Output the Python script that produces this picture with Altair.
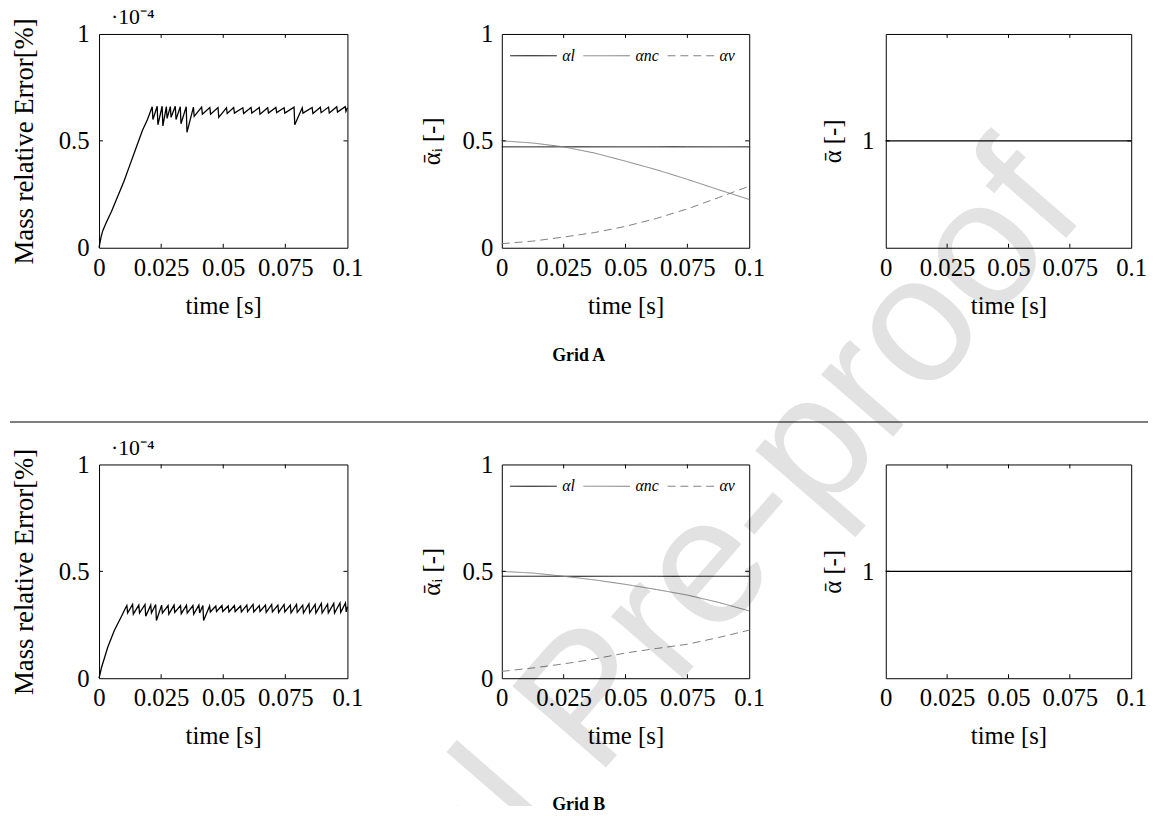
import altair as alt
import pandas as pd

FONT = "Liberation Serif"

# ---------------- data ----------------
time_ticks = [0, 0.025, 0.05, 0.075, 0.1]
inner_time_ticks = [0.025, 0.05, 0.075]
err_ticks = [0, 0.5, 1]
frac_ticks = [0, 0.5, 1]
total_ticks = [1]
err_scale_label = ["·10⁻⁴"]

# Grid A, mass relative error (x 1e-4 %)
A_err_t = [0, 0.0008, 0.0015, 0.003, 0.005, 0.0075, 0.01, 0.0125, 0.015, 0.0175, 0.0195,
           0.0214, 0.0217, 0.0234, 0.0237, 0.0254, 0.0257, 0.0271, 0.0274, 0.0287, 0.0290,
           0.0307, 0.0310, 0.0327, 0.0330, 0.0351, 0.0354, 0.0380, 0.0383, 0.0413, 0.0416,
           0.0446, 0.0449, 0.0479, 0.0482, 0.0513, 0.0516, 0.0542, 0.0545, 0.0579, 0.0582,
           0.0612, 0.0615, 0.0645, 0.0648, 0.0679, 0.0682, 0.0712, 0.0715, 0.0745, 0.0748,
           0.0785, 0.0788, 0.0818, 0.0821, 0.0858, 0.0861, 0.0891, 0.0894, 0.0924, 0.0927,
           0.0957, 0.0960, 0.0991, 0.0994, 0.1]
A_err_v = [0, 0.05, 0.08, 0.12, 0.17, 0.24, 0.31, 0.39, 0.47, 0.55, 0.60,
           0.660, 0.600, 0.662, 0.575, 0.662, 0.570, 0.660, 0.605, 0.660, 0.610,
           0.662, 0.600, 0.660, 0.580, 0.660, 0.540, 0.658, 0.615, 0.658, 0.625,
           0.656, 0.625, 0.656, 0.610, 0.655, 0.628, 0.656, 0.630, 0.655, 0.628,
           0.656, 0.630, 0.656, 0.625, 0.655, 0.630, 0.656, 0.632, 0.655, 0.630,
           0.658, 0.575, 0.655, 0.630, 0.656, 0.628, 0.657, 0.632, 0.658, 0.630,
           0.660, 0.635, 0.660, 0.638, 0.655]

# Grid B, mass relative error (x 1e-4 %)
B_err_t = [0, 0.001, 0.0035, 0.0061, 0.0088, 0.0105,
           0.0112, 0.0115, 0.0135, 0.0138, 0.0160, 0.0163, 0.0185, 0.0188, 0.0208, 0.0211,
           0.0228, 0.0231, 0.0252, 0.0255, 0.0278, 0.0281, 0.0302, 0.0305, 0.0328, 0.0331,
           0.0352, 0.0355, 0.0378, 0.0381, 0.0402, 0.0405, 0.0418, 0.0421, 0.0445, 0.0448,
           0.0470, 0.0473, 0.0495, 0.0498, 0.0520, 0.0523, 0.0545, 0.0548, 0.0570, 0.0573,
           0.0595, 0.0598, 0.0620, 0.0623, 0.0645, 0.0648, 0.0670, 0.0673, 0.0695, 0.0698,
           0.0720, 0.0723, 0.0745, 0.0748, 0.0770, 0.0773, 0.0795, 0.0798, 0.0820, 0.0823,
           0.0845, 0.0848, 0.0870, 0.0873, 0.0895, 0.0898, 0.0920, 0.0923, 0.0945, 0.0948,
           0.0970, 0.0973, 0.0992, 0.0995, 0.1]
B_err_v = [0, 0.05, 0.145, 0.222, 0.284, 0.325,
           0.340, 0.305, 0.345, 0.300, 0.342, 0.305, 0.345, 0.290, 0.342, 0.305,
           0.345, 0.270, 0.342, 0.305, 0.340, 0.300, 0.342, 0.308, 0.340, 0.302,
           0.342, 0.305, 0.340, 0.300, 0.342, 0.305, 0.340, 0.270, 0.338, 0.310,
           0.338, 0.312, 0.340, 0.312, 0.338, 0.310, 0.340, 0.312, 0.338, 0.310,
           0.342, 0.312, 0.345, 0.310, 0.340, 0.312, 0.342, 0.308, 0.345, 0.310,
           0.342, 0.308, 0.345, 0.310, 0.342, 0.306, 0.345, 0.308, 0.342, 0.305,
           0.348, 0.306, 0.345, 0.305, 0.350, 0.305, 0.346, 0.306, 0.350, 0.305,
           0.352, 0.308, 0.352, 0.310, 0.335]

# phase fractions
series_names = ["αl", "αnc", "αv"]
series_colors = ["#000000", "#808080", "#808080"]
series_dashes = [[1, 0], [1, 0], [8, 5]]

frac_t = [0, 0.0125, 0.025, 0.0375, 0.05, 0.0625, 0.075, 0.0875, 0.1]
A_alpha_l = [0.472, 0.472, 0.472, 0.472, 0.472, 0.472, 0.472, 0.472, 0.472]
A_alpha_nc = [0.500, 0.490, 0.472, 0.443, 0.405, 0.365, 0.320, 0.272, 0.226]
A_alpha_v = [0.019, 0.031, 0.050, 0.071, 0.100, 0.137, 0.182, 0.234, 0.288]
B_alpha_l = [0.477, 0.477, 0.477, 0.477, 0.477, 0.477, 0.477, 0.477, 0.477]
B_alpha_nc = [0.500, 0.492, 0.477, 0.460, 0.439, 0.415, 0.389, 0.355, 0.315]
B_alpha_v = [0.032, 0.048, 0.067, 0.090, 0.118, 0.139, 0.159, 0.190, 0.225]

# total fraction
total_t = [0, 0.1]
A_total = [1, 1]
B_total = [1, 1]

watermark = ["Journal Pre-proof"]

# ---------------- helpers ----------------
H = 216
TICK = 4
LEFT0 = 90  # distance from page content edge to first plot area


def x_enc():
    return alt.X("t:Q", scale=alt.Scale(domain=[0, 0.1], nice=False, zero=False),
                 axis=alt.Axis(values=time_ticks, format=".3~f", title="time [s]",
                               labelPadding=8, titlePadding=13))


def y_enc(field, domain, values, title, label_pad, title_pad, title_size=25):
    return alt.Y(f"{field}:Q", scale=alt.Scale(domain=domain, nice=False, zero=False),
                 axis=alt.Axis(values=values, format=".3~f", title=title,
                               labelPadding=label_pad, titlePadding=title_pad,
                               titleFontSize=title_size))


def inner_ticks(X, Y, yfield, yvals, w):
    xt = pd.DataFrame({"t": inner_time_ticks})
    yt = pd.DataFrame({yfield: yvals})
    top = alt.Chart(xt).mark_rule(color="black", strokeWidth=1).encode(
        x=X, y=alt.value(0), y2=alt.value(TICK))
    bottom = alt.Chart(xt).mark_rule(color="black", strokeWidth=1).encode(
        x=X, y=alt.value(H), y2=alt.value(H - TICK))
    left = alt.Chart(yt).mark_rule(color="black", strokeWidth=1).encode(
        y=Y, x=alt.value(0), x2=alt.value(TICK))
    right = alt.Chart(yt).mark_rule(color="black", strokeWidth=1).encode(
        y=Y, x=alt.value(w), x2=alt.value(w - TICK))
    return [top, bottom, left, right]


def err_panel(t, v):
    w = 251
    df = pd.DataFrame({"t": t, "e": v})
    X = x_enc()
    Y = y_enc("e", [0, 1], err_ticks, "Mass relative Error[%]", 10, 20, 27)
    line = alt.Chart(df).mark_line(color="black", strokeWidth=1.3).encode(x=X, y=Y)
    mult = alt.Chart(pd.DataFrame({"s": err_scale_label})).mark_text(
        font=FONT, fontSize=22, color="black", align="left", baseline="alphabetic"
    ).encode(text="s:N", x=alt.value(12), y=alt.value(-10))
    return alt.layer(line, mult, *inner_ticks(X, Y, "e", [0.5], w)).properties(
        width=w, height=H)


def frac_panel(l, nc, v):
    w = 250
    rows = []
    for name, vals in zip(series_names, [l, nc, v]):
        for ti, vi in zip(frac_t, vals):
            rows.append({"t": ti, "v": vi, "series": name})
    df = pd.DataFrame(rows)
    X = x_enc()
    Y = y_enc("v", [0, 1], frac_ticks, "ᾱᵢ [-]", 9, 18)
    leg = alt.Legend(title=None, orient="none", legendX=8, legendY=-2,
                     direction="horizontal", symbolType="stroke", symbolSize=2209,
                     symbolStrokeWidth=1, labelFont=FONT, labelFontSize=16,
                     labelFontStyle="italic", labelOffset=5, columnPadding=6,
                     labelColor="black", padding=0)
    lines = alt.Chart(df).mark_line(strokeWidth=1).encode(
        x=X, y=Y,
        color=alt.Color("series:N", scale=alt.Scale(domain=series_names, range=series_colors),
                        legend=leg),
        strokeDash=alt.StrokeDash("series:N",
                                  scale=alt.Scale(domain=series_names, range=series_dashes),
                                  legend=leg),
    )
    return alt.layer(lines, *inner_ticks(X, Y, "v", [0.5], w)).properties(width=w, height=H)


def total_panel(vals):
    w = 248
    df = pd.DataFrame({"t": total_t, "v": vals})
    X = x_enc()
    Y = y_enc("v", [0.5, 1.5], total_ticks, "ᾱ [-]", 12, 16)
    line = alt.Chart(df).mark_line(color="black", strokeWidth=1.2).encode(x=X, y=Y)
    return alt.layer(line, *inner_ticks(X, Y, "v", [1], w)).properties(width=w, height=H)


def grid_row(err_t, err_v, l, nc, v, tot, caption, cap_offset):
    return alt.hconcat(
        err_panel(err_t, err_v), frac_panel(l, nc, v), total_panel(tot), spacing=55
    ).properties(title=alt.TitleParams(caption, orient="bottom", anchor="middle",
                                       font=FONT, fontSize=18, fontWeight="bold",
                                       offset=cap_offset, color="black")
    ).resolve_legend(color="independent", strokeDash="independent")


row_a = grid_row(A_err_t, A_err_v, A_alpha_l, A_alpha_nc, A_alpha_v, A_total, "Grid A", 29)
row_b = grid_row(B_err_t, B_err_v, B_alpha_l, B_alpha_nc, B_alpha_v, B_total, "Grid B", 48)

DIV_H = 44
divider = alt.Chart(pd.DataFrame({"d": [0]})).mark_rule(color="#555555", strokeWidth=1.5).encode(
    x=alt.value(-LEFT0), x2=alt.value(1150 - LEFT0), y=alt.value(DIV_H)
).properties(width=10, height=DIV_H, view=alt.ViewBackground(stroke="transparent"))

main = alt.vconcat(row_a, divider, row_b, spacing=12).resolve_legend(
    color="independent", strokeDash="independent")

# faint watermark over the figure (translucent black), clipped to its own area
BG_W, BG_H = 1045, 780
overlay = alt.Chart(pd.DataFrame({"w": watermark})).mark_text(
    font="Liberation Sans", fontSize=182, color="black", opacity=0.11, angle=311,
    align="right", baseline="alphabetic", clip=True,
).encode(
    text="w:N", x=alt.value(1000), y=alt.value(180)
).properties(width=BG_W, height=BG_H, view=alt.ViewBackground(stroke="transparent"))

chart = alt.vconcat(main, overlay, spacing=0, bounds="flush").properties(
    padding={"left": 0, "top": -7, "right": 0, "bottom": 0},
    background="white",
).resolve_legend(color="independent", strokeDash="independent").configure(
    font=FONT
).configure_axis(
    labelFont=FONT, titleFont=FONT, labelFontSize=25, titleFontSize=25,
    titleFontWeight="normal", labelColor="black", titleColor="black",
    domain=False, ticks=False, grid=False, labelFlush=False, labelOverlap=False,
).configure_view(stroke="black", strokeWidth=1)

chart.save("out.html", embed_options={"renderer": "svg", "actions": False})
